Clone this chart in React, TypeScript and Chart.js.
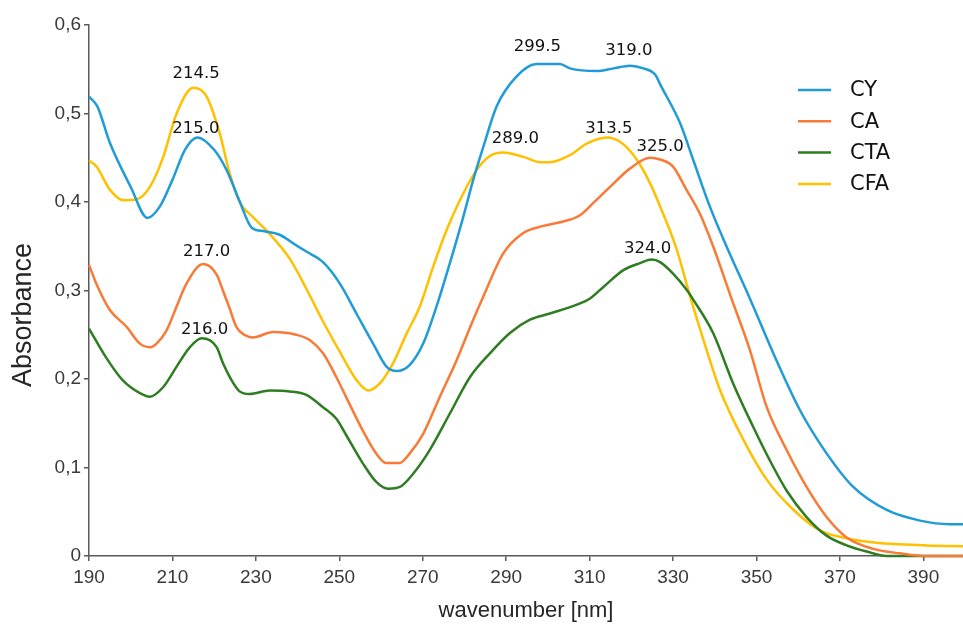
import React, { useEffect, useRef } from "react";
import { Chart, registerables } from "chart.js";

Chart.register(...registerables);

// ---- data ----
const cyX = [190, 192, 195, 200, 204, 207, 210, 213, 216, 220, 223, 226, 229, 232, 235.7, 239.7, 242.1, 246.1, 250.1, 254.1, 258.1, 261.3, 263.7, 266.9, 270.1, 273.3, 276.5, 279.7, 282.1, 284.5, 287.7, 292.5, 297.3, 302.9, 305.3, 311.7, 315.7, 319.7, 322.9, 325.7, 327, 331.7, 334.8, 338.8, 342.8, 348.4, 354.8, 360.4, 366.8, 373.2, 381.2, 389.2, 396.3, 400];
const cyY = [0.519, 0.508, 0.467, 0.417, 0.382, 0.395, 0.425, 0.459, 0.473, 0.459, 0.436, 0.402, 0.371, 0.367, 0.363, 0.351, 0.344, 0.332, 0.308, 0.274, 0.24, 0.214, 0.209, 0.216, 0.24, 0.282, 0.331, 0.383, 0.425, 0.462, 0.508, 0.542, 0.556, 0.556, 0.551, 0.548, 0.551, 0.554, 0.551, 0.544, 0.532, 0.489, 0.448, 0.395, 0.35, 0.291, 0.221, 0.165, 0.116, 0.078, 0.052, 0.04, 0.036, 0.036];

const caX = [190, 192, 195, 199, 202.2, 204.6, 206.2, 208.6, 211, 213.4, 217.4, 220.6, 222.1, 223.7, 225.3, 227.2, 229.3, 234.1, 239.7, 242.9, 246.1, 249.3, 251.7, 255.6, 258.8, 261.2, 264.4, 266.9, 270.1, 274.1, 278.1, 282.1, 284.5, 289.3, 294.1, 298.9, 303.7, 307.7, 310.9, 314.9, 319.7, 324.5, 326.9, 330, 333.2, 336.4, 339.6, 344, 348.4, 352.4, 357.2, 362, 366.8, 371.6, 378, 384.4, 390.8, 400];
const caY = [0.329, 0.305, 0.278, 0.259, 0.24, 0.236, 0.24, 0.255, 0.282, 0.308, 0.33, 0.318, 0.3, 0.28, 0.259, 0.25, 0.247, 0.253, 0.25, 0.244, 0.229, 0.202, 0.179, 0.142, 0.116, 0.105, 0.105, 0.116, 0.138, 0.18, 0.221, 0.267, 0.293, 0.342, 0.365, 0.373, 0.378, 0.385, 0.399, 0.417, 0.438, 0.45, 0.448, 0.44, 0.414, 0.387, 0.35, 0.291, 0.233, 0.169, 0.12, 0.078, 0.044, 0.021, 0.008, 0.003, 0.0, 0.0];

const ctaX = [190, 194, 198, 202.2, 204.6, 207.8, 211, 214.2, 217, 220.6, 222.1, 224, 226.1, 228.5, 233.3, 238.1, 242.1, 246.1, 249.3, 251.6, 255.6, 258.8, 261.7, 264.5, 267.7, 271.7, 276.5, 281.3, 286.1, 290.9, 295.7, 300.5, 306.9, 310.1, 313.3, 318.1, 322.1, 324.9, 326.9, 330, 333.2, 334.8, 339.6, 344.4, 349.2, 353.2, 357.2, 362, 366.8, 371.6, 376.4, 381.2, 390, 400];
const ctaY = [0.257, 0.225, 0.199, 0.184, 0.18, 0.191, 0.214, 0.236, 0.246, 0.236, 0.218, 0.2, 0.186, 0.183, 0.187, 0.186, 0.182, 0.168, 0.155, 0.137, 0.105, 0.084, 0.076, 0.078, 0.093, 0.12, 0.161, 0.202, 0.229, 0.252, 0.267, 0.274, 0.284, 0.291, 0.304, 0.323, 0.331, 0.335, 0.332, 0.319, 0.301, 0.29, 0.252, 0.195, 0.146, 0.108, 0.074, 0.044, 0.023, 0.012, 0.005, 0.0, 0.0, 0.0];

const cfaX = [190, 191.8, 195, 198.2, 201.4, 204.6, 207.8, 211, 215, 218.2, 221.3, 223.7, 226.1, 229.3, 232.5, 238.1, 242.1, 246.1, 250.1, 254.1, 256.9, 259.7, 262.9, 266.1, 269.3, 272.5, 275.7, 278.9, 282.9, 286.1, 289.3, 294.1, 298.1, 300.5, 305.3, 309.3, 314.1, 317.3, 321.3, 324.5, 326.9, 330.9, 334.1, 337.3, 341.3, 346.9, 352.5, 358.9, 365.2, 371.6, 378.8, 390.8, 400];
const cfaY = [0.447, 0.44, 0.414, 0.402, 0.403, 0.417, 0.451, 0.5, 0.529, 0.519, 0.478, 0.433, 0.4, 0.383, 0.368, 0.336, 0.302, 0.265, 0.231, 0.199, 0.187, 0.195, 0.218, 0.251, 0.282, 0.327, 0.368, 0.402, 0.436, 0.452, 0.456, 0.451, 0.445, 0.445, 0.453, 0.466, 0.473, 0.468, 0.448, 0.421, 0.395, 0.346, 0.293, 0.244, 0.187, 0.131, 0.086, 0.052, 0.029, 0.02, 0.015, 0.012, 0.011];

const seriesNames = ["CY", "CA", "CTA", "CFA"];
const seriesColors = ["#1f9bd7", "#f97a36", "#2f7d22", "#ffc000"];

const xTicks = [190, 210, 230, 250, 270, 290, 310, 330, 350, 370, 390];
const yTicks = [0, 0.1, 0.2, 0.3, 0.4, 0.5, 0.6];
const yTickLabels = ["0", "0,1", "0,2", "0,3", "0,4", "0,5", "0,6"];

const peakTexts = ["214.5", "215.0", "217.0", "216.0", "299.5", "319.0", "289.0", "313.5", "325.0", "324.0"];
const peakAnchorX = [215.7, 215.6, 218.2, 217.7, 297.5, 319.4, 292.2, 314.6, 326.9, 323.9];
const peakAnchorY = [0.545, 0.483, 0.344, 0.256, 0.575, 0.571, 0.471, 0.483, 0.462, 0.347];

const xTitle = "wavenumber [nm]";
const yTitle = "Absorbance";

const AXIS_COLOR = "#595959";
const TEXT_COLOR = "#3a3a3a";
const SANS = "'Liberation Sans', Arial, sans-serif";
const DEJAVU = "'DejaVu Sans', Verdana, sans-serif";

const overlayPlugin = {
  id: "overlay",
  afterDatasetsDraw(chart: any) {
    const ctx = chart.ctx;
    const xs = chart.scales.x;
    const ys = chart.scales.y;
    ctx.save();
    // peak labels
    ctx.font = `16.5px ${DEJAVU}`;
    ctx.fillStyle = "#111111";
    ctx.textAlign = "center";
    ctx.textBaseline = "middle";
    peakTexts.forEach((t, i) => {
      ctx.fillText(t, xs.getPixelForValue(peakAnchorX[i]), ys.getPixelForValue(peakAnchorY[i]));
    });
    // legend
    const lx = 798;
    const ly0 = 90;
    const dy = 31.3;
    seriesNames.forEach((name, i) => {
      const y = ly0 + i * dy;
      ctx.strokeStyle = seriesColors[i];
      ctx.lineWidth = 2.5;
      ctx.beginPath();
      ctx.moveTo(lx, y);
      ctx.lineTo(lx + 33, y);
      ctx.stroke();
      ctx.font = `21px ${DEJAVU}`;
      ctx.fillStyle = "#111111";
      ctx.textAlign = "left";
      ctx.textBaseline = "middle";
      ctx.fillText(name, 850, y + 1);
    });
    // y title
    ctx.translate(23.5, 315);
    ctx.rotate(-Math.PI / 2);
    ctx.font = `27px ${SANS}`;
    ctx.fillStyle = "#262626";
    ctx.textAlign = "center";
    ctx.textBaseline = "middle";
    ctx.fillText(yTitle, 0, 0);
    ctx.restore();
  },
};

export default function App() {
  const ref = useRef<HTMLCanvasElement>(null);
  useEffect(() => {
    if (!ref.current) return;
    const mk = (xsArr: number[], ysArr: number[]) => xsArr.map((x, i) => ({ x, y: ysArr[i] }));
    const datas = [mk(cyX, cyY), mk(caX, caY), mk(ctaX, ctaY), mk(cfaX, cfaY)];
    const chart = new Chart(ref.current, {
      type: "line",
      data: {
        datasets: seriesNames.map((name, i) => ({
          label: name,
          data: datas[i],
          borderColor: seriesColors[i],
          backgroundColor: seriesColors[i],
          borderWidth: 2.5,
          pointRadius: 0,
          tension: 0.4,
          cubicInterpolationMode: "monotone" as const,
          fill: false,
          clip: false as any,
        })),
      },
      options: {
        animation: false,
        responsive: false,
        layout: { padding: { left: 0, right: 0, top: 25, bottom: 0 } },
        plugins: {
          legend: { display: false },
          tooltip: { enabled: false },
        },
        scales: {
          x: {
            type: "linear",
            min: 190,
            max: 399.5,
            afterBuildTicks: (s: any) => {
              s.ticks = xTicks.map((v) => ({ value: v }));
            },
            afterFit: (s: any) => {
              s.height = 68;
            },
            ticks: {
              autoSkip: false,
              maxRotation: 0,
              padding: 5,
              color: TEXT_COLOR,
              font: { family: SANS, size: 19 },
              callback: (v: any) => String(v),
            },
            grid: {
              drawOnChartArea: false,
              drawTicks: true,
              tickLength: 5,
              color: AXIS_COLOR,
              lineWidth: 1.5,
            },
            border: { display: true, color: AXIS_COLOR, width: 1.5 },
            title: {
              display: true,
              text: xTitle,
              color: "#262626",
              font: { family: SANS, size: 22 },
              padding: { top: 0, bottom: 0 },
            },
          },
          y: {
            type: "linear",
            min: 0,
            max: 0.6,
            afterBuildTicks: (s: any) => {
              s.ticks = yTicks.map((v) => ({ value: v }));
            },
            afterFit: (s: any) => {
              s.width = 89;
            },
            ticks: {
              autoSkip: false,
              padding: 3,
              color: TEXT_COLOR,
              font: { family: SANS, size: 19 },
              callback: (_v: any, idx: number) => yTickLabels[idx],
            },
            grid: {
              drawOnChartArea: false,
              drawTicks: true,
              tickLength: 5,
              color: AXIS_COLOR,
              lineWidth: 1.5,
            },
            border: { display: true, color: AXIS_COLOR, width: 1.5 },
          },
        },
      },
      plugins: [overlayPlugin],
    });
    return () => chart.destroy();
  }, []);
  return (
    <div style={{ position: "fixed", left: 0, top: 0, width: 963, height: 624, background: "#ffffff" }}>
      <canvas ref={ref} width={963} height={624} />
    </div>
  );
}
